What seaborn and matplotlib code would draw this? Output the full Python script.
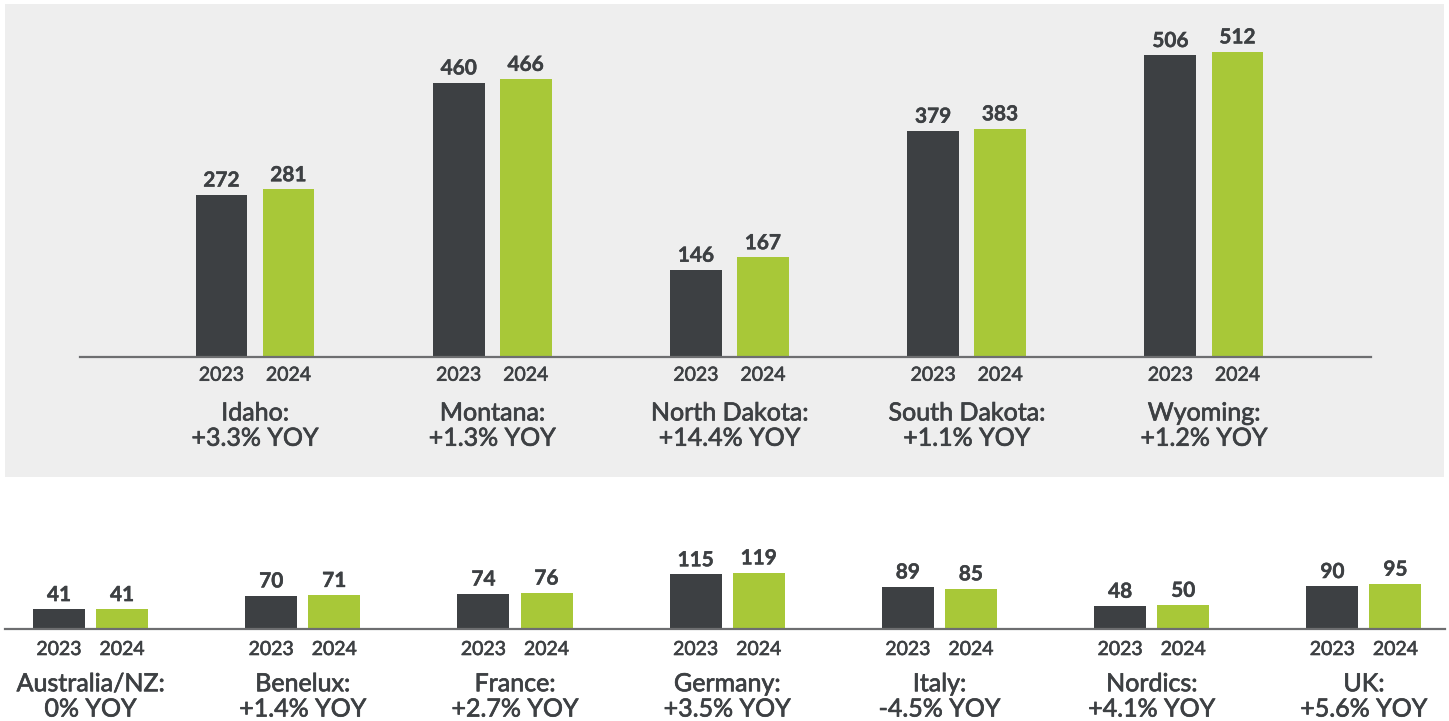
import matplotlib
matplotlib.use("Agg")
import matplotlib.pyplot as plt
import matplotlib.patheffects as pe
import seaborn as sns
import pandas as pd
from matplotlib.patches import Rectangle

# ---- data ----
years = ["2023", "2024"]

us_regions = ["Idaho", "Montana", "North Dakota", "South Dakota", "Wyoming"]
us_2023 = [272, 460, 146, 379, 506]
us_2024 = [281, 466, 167, 383, 512]
us_yoy = ["+3.3%", "+1.3%", "+14.4%", "+1.1%", "+1.2%"]

intl_regions = ["Australia/NZ", "Benelux", "France", "Germany", "Italy", "Nordics", "UK"]
intl_2023 = [41, 70, 74, 115, 89, 48, 90]
intl_2024 = [41, 71, 76, 119, 85, 50, 95]
intl_yoy = ["0%", "+1.4%", "+2.7%", "+3.5%", "-4.5%", "+4.1%", "+5.6%"]

DARK = "#3d4043"
GREEN = "#a8c838"
TEXT = "#3d4043"
BG = "#eeeeee"

sns.set_theme(style="white")
plt.rcParams["font.family"] = ["Lato", "DejaVu Sans"]

W, H = 1449, 721
fig = plt.figure(figsize=(W / 100, H / 100), dpi=100)
fig.patch.set_facecolor("white")
fig.patches.append(Rectangle((5 / W, 1 - 477 / H), 1439 / W, 473 / H,
                             transform=fig.transFigure, facecolor=BG,
                             edgecolor="none", zorder=-5))

medium = [pe.withStroke(linewidth=0.5, foreground=TEXT)]
semib = [pe.withStroke(linewidth=0.45, foreground=TEXT)]
boldfx = [pe.withStroke(linewidth=0.3, foreground=TEXT)]


def make_df(regions, a, b):
    rows = []
    for r, v in zip(regions, a):
        rows.append({"region": r, "year": years[0], "value": v})
    for r, v in zip(regions, b):
        rows.append({"region": r, "year": years[1], "value": v})
    return pd.DataFrame(rows)


def draw(ax, regions, a, b, yoy, width, gap, xlim, ylim, year_off, cat_pad):
    df = make_df(regions, a, b)
    sns.barplot(data=df, x="region", y="value", hue="year", order=regions,
                hue_order=years, palette=[DARK, GREEN], width=width, gap=gap,
                saturation=1, legend=False, linewidth=0, ax=ax)
    ax.set_facecolor("none")
    ax.set_xlim(*xlim)
    ax.set_ylim(*ylim)
    for s in ["top", "left", "right"]:
        ax.spines[s].set_visible(False)
    ax.spines["bottom"].set_color("#6d6e70")
    ax.spines["bottom"].set_linewidth(1.6)
    ax.spines["bottom"].set_zorder(5)
    ax.set_yticks([])
    ax.set_xlabel("")
    ax.set_ylabel("")
    for cont in ax.containers:
        labs = ax.bar_label(cont, padding=3, fontsize=15, fontweight="bold", color=TEXT)
        for t in labs:
            t.set_path_effects(boldfx)
    for yr, cont in zip(years, ax.containers):
        for p in cont.patches:
            cx = p.get_x() + p.get_width() / 2
            ax.annotate(yr, xy=(cx, 0), xycoords=("data", "axes fraction"),
                        xytext=(0, year_off), textcoords="offset points",
                        ha="center", va="top", fontsize=14,
                        color=TEXT, path_effects=semib)
    ax.set_xticks(range(len(regions)))
    ax.set_xticklabels([f"{r}:\n{y} YOY" for r, y in zip(regions, yoy)],
                       fontsize=18, color=TEXT, linespacing=1.12)
    for t in ax.get_xticklabels():
        t.set_path_effects(medium)
    ax.tick_params(axis="x", length=0, pad=cat_pad)


# top panel
ax1 = fig.add_axes([80 / W, 1 - 357 / H, 1291 / W, 337 / H])
draw(ax1, us_regions, us_2023, us_2024, us_yoy,
     width=0.565, gap=0.225, xlim=(-0.7376, 4.704), ylim=(0, 565),
     year_off=-7, cat_pad=32)

# bottom panel
ax2 = fig.add_axes([5 / W, 1 - 628.5 / H, 1440 / W, 70.5 / H])
draw(ax2, intl_regions, intl_2023, intl_2024, intl_yoy,
     width=0.594, gap=0.175, xlim=(-0.403, 6.382), ylim=(0, 150),
     year_off=-9, cat_pad=31.5)

fig.savefig("out.png", dpi=100, facecolor="white")
